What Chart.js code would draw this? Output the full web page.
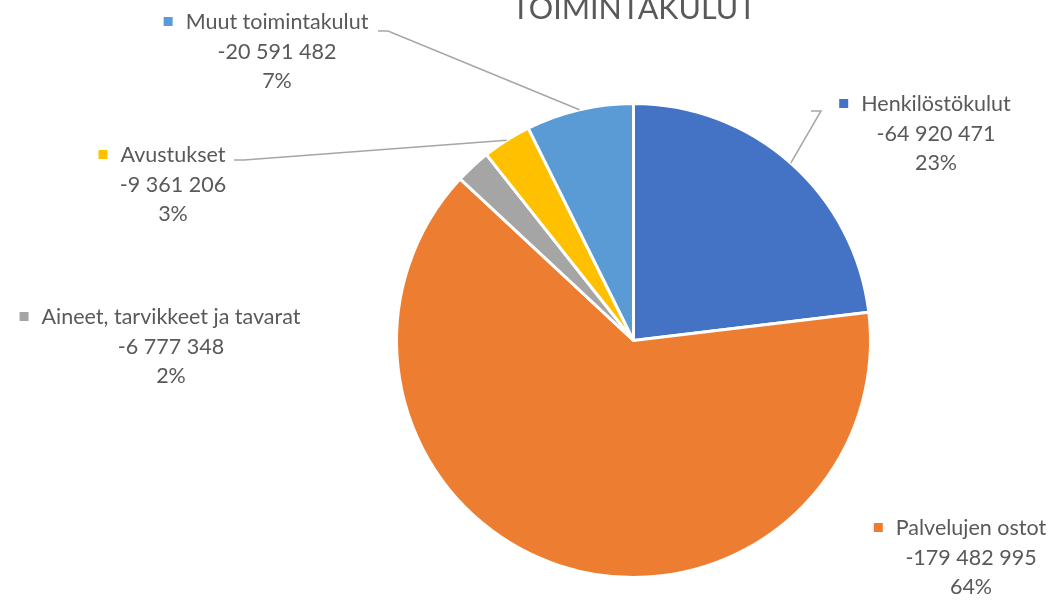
<!DOCTYPE html>
<html>
<head>
<meta charset="utf-8">
<script src="https://cdn.jsdelivr.net/npm/chart.js@4"></script>
<style>
  html, body { margin: 0; padding: 0; background: #fff; }
  #wrap { width: 1057px; height: 601px; }
</style>
</head>
<body>
<div id="wrap"><canvas id="kulut" width="1057" height="601"></canvas></div>
<script>
const kategoriat = ["Henkilöstökulut", "Palvelujen ostot", "Aineet, tarvikkeet ja tavarat", "Avustukset", "Muut toimintakulut"];
const arvot = [-64920471, -179482995, -6777348, -9361206, -20591482];
const varit = ["#4472C4", "#ED7D31", "#A5A5A5", "#FFC000", "#5B9BD5"];
const otsikko = "TOIMINTAKULUT";

// label text centres (first line) and leader line corner, if any
const selitteet = [
  { x: 936, y: 104, kulma: [821, 111] },
  { x: 971, y: 528, kulma: null },
  { x: 171, y: 317, kulma: null },
  { x: 173, y: 155, kulma: [244, 160] },
  { x: 277, y: 22, kulma: [388, 31] }
];

const fontti = "Lato, 'Noto Sans', sans-serif";
const yhteensa = arvot.reduce((a, b) => a + Math.abs(b), 0);

function muotoile(n) {
  const s = Math.abs(n).toString().replace(/\B(?=(\d{3})+(?!\d))/g, " ");
  return (n < 0 ? "-" : "") + s;
}

const tekstit = {
  id: "tekstit",
  afterDraw(chart) {
    const ctx = chart.ctx;
    const meta = chart.getDatasetMeta(0);
    ctx.save();

    // title, partly cut off at the top like in the original
    ctx.fillStyle = "#595959";
    ctx.font = "30.5px " + fontti;
    ctx.textAlign = "center";
    ctx.textBaseline = "alphabetic";
    ctx.fillText(otsikko, 634, 19);

    ctx.font = "21.5px " + fontti;
    ctx.textBaseline = "middle";
    meta.data.forEach((arc, i) => {
      const s = selitteet[i];
      const p = Math.round(Math.abs(arvot[i]) / yhteensa * 100) + "%";

      if (s.kulma) {
        const mid = (arc.startAngle + arc.endAngle) / 2;
        const ex = arc.x + arc.outerRadius * Math.cos(mid);
        const ey = arc.y + arc.outerRadius * Math.sin(mid);
        ctx.strokeStyle = "#A6A6A6";
        ctx.lineWidth = 1.5;
        ctx.beginPath();
        ctx.moveTo(s.kulma[0] - 10, s.kulma[1]);
        ctx.lineTo(s.kulma[0], s.kulma[1]);
        ctx.lineTo(ex, ey);
        ctx.stroke();
      }

      const w = ctx.measureText(kategoriat[i]).width;
      ctx.fillStyle = varit[i];
      ctx.fillRect(s.x - w / 2 - 22, s.y - 5, 9, 9);
      ctx.fillStyle = "#595959";
      ctx.textAlign = "center";
      ctx.fillText(kategoriat[i], s.x, s.y);
      ctx.fillText(muotoile(arvot[i]), s.x, s.y + 30);
      ctx.fillText(p, s.x, s.y + 59);
    });
    ctx.restore();
  }
};

new Chart(document.getElementById("kulut").getContext("2d"), {
  type: "pie",
  data: {
    labels: kategoriat,
    datasets: [{
      data: arvot.map(v => Math.abs(v)),
      backgroundColor: varit,
      borderColor: "#ffffff",
      borderWidth: 3
    }]
  },
  options: {
    responsive: false,
    animation: false,
    layout: { padding: { left: 395, right: 185, top: 102, bottom: 22 } },
    plugins: {
      legend: { display: false },
      tooltip: { enabled: false }
    }
  },
  plugins: [tekstit]
});
</script>
</body>
</html>
